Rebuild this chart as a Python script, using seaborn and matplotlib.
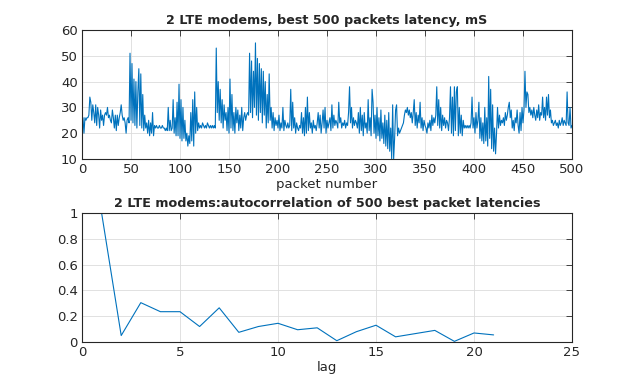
import numpy as np
import pandas as pd
import matplotlib
matplotlib.use("Agg")
import matplotlib.pyplot as plt
import seaborn as sns

# ---- data ----
latency = [
    26, 20, 26, 25, 26, 26, 27, 34, 32, 25,
    31, 28, 24, 31, 23, 30, 27, 22, 29, 25,
    27, 23, 27, 28, 27, 30, 26, 27, 25, 24,
    29, 26, 22, 27, 21, 27, 23, 26, 28, 31,
    27, 25, 26, 24, 20, 25, 26, 24, 51, 25,
    47, 24, 41, 23, 40, 22, 36, 45, 23, 43,
    22, 35, 21, 27, 22, 24, 20, 25, 19, 24,
    20, 28, 19, 23, 22, 23, 22, 22, 23, 22,
    22, 23, 22, 22, 21, 22, 21, 30, 21, 25,
    21, 22, 33, 20, 26, 19, 32, 19, 39, 18,
    33, 17, 30, 18, 25, 17, 20, 15, 19, 16,
    28, 17, 33, 15, 36, 20, 30, 21, 24, 22,
    23, 22, 24, 23, 22, 23, 22, 24, 23, 22,
    23, 22, 23, 22, 23, 22, 53, 28, 40, 25,
    37, 24, 33, 22, 31, 25, 28, 21, 30, 20,
    41, 22, 35, 21, 28, 20, 30, 24, 29, 21,
    27, 22, 30, 21, 26, 28, 25, 27, 28, 27,
    51, 28, 48, 26, 44, 30, 55, 27, 49, 25,
    47, 28, 45, 24, 44, 27, 40, 22, 35, 24,
    43, 25, 30, 22, 28, 21, 26, 23, 25, 22,
    27, 21, 24, 22, 30, 21, 25, 23, 22, 24,
    22, 23, 37, 21, 32, 22, 26, 20, 24, 22,
    21, 23, 22, 28, 20, 26, 19, 30, 20, 34,
    21, 28, 22, 24, 20, 25, 22, 23, 21, 24,
    28, 22, 27, 20, 24, 29, 22, 30, 20, 25,
    22, 24, 26, 21, 31, 22, 27, 23, 25, 24,
    22, 32, 24, 26, 22, 24, 23, 25, 22, 24,
    23, 28, 38, 24, 30, 22, 26, 23, 25, 24,
    22, 28, 20, 30, 21, 27, 19, 28, 22, 24,
    20, 33, 21, 26, 19, 37, 32, 20, 27, 18,
    30, 19, 26, 17, 29, 18, 24, 16, 27, 15,
    25, 14, 28, 13, 22, 10, 31, 10, 18, 29,
    31, 19, 22, 20, 21, 22, 23, 24, 27, 29,
    28, 30, 27, 29, 26, 28, 24, 28, 33, 23,
    28, 22, 27, 24, 32, 22, 26, 21, 25, 23,
    22, 20, 24, 22, 25, 21, 27, 23, 26, 24,
    27, 38, 23, 33, 22, 30, 21, 27, 23, 26,
    22, 25, 24, 21, 26, 38, 20, 34, 19, 38,
    21, 36, 38, 19, 30, 20, 27, 19, 25, 22,
    23, 22, 23, 22, 23, 22, 24, 34, 22, 26,
    20, 28, 22, 25, 32, 18, 26, 17, 24, 16,
    30, 17, 26, 15, 42, 18, 37, 14, 31, 13,
    22, 12, 20, 30, 22, 27, 23, 25, 24, 26,
    23, 28, 25, 27, 30, 32, 26, 29, 22, 25,
    21, 26, 24, 29, 23, 20, 28, 21, 30, 24,
    29, 44, 30, 36, 35, 28, 30, 27, 29, 26,
    30, 27, 25, 29, 26, 31, 25, 28, 27, 34,
    26, 30, 25, 34, 27, 35, 26, 29, 24, 25,
    23, 24, 25, 23, 24, 22, 25, 23, 24, 26,
    23, 25, 24, 23, 36, 24, 23, 30, 22, 23,
]
packet = list(range(1, len(latency) + 1))

lags = list(range(1, 22))
autocorr = [1.0, 0.05, 0.305, 0.235, 0.235, 0.12, 0.265, 0.075, 0.12, 0.145,
            0.095, 0.11, 0.01, 0.08, 0.13, 0.04, 0.065, 0.09, 0.005, 0.07, 0.055]

top_title = "2 LTE modems, best 500 packets latency, mS"
bot_title = "2 LTE modems:autocorrelation of 500 best packet latencies"

# ---- style ----
sns.set_style("whitegrid")
plt.rcParams['font.family'] = ['DejaVu Sans']
dark = '#262626'
plt.rcParams.update({
    'axes.edgecolor': dark,
    'axes.linewidth': 0.8,
    'grid.color': '#dcdcdc',
    'grid.linewidth': 0.6,
    'xtick.color': dark,
    'ytick.color': dark,
    'text.color': dark,
    'axes.labelcolor': dark,
})
line_color = '#0072BD'

fig = plt.figure(figsize=(6.33, 3.87), dpi=100)
ax1 = fig.add_axes([82/633, 1-159/387, 490/633, 129/387])
ax2 = fig.add_axes([82/633, 1-342/387, 490/633, 129/387])

df1 = pd.DataFrame({'packet': packet, 'latency': latency})
sns.lineplot(data=df1, x='packet', y='latency', ax=ax1, color=line_color, linewidth=0.8)
ax1.set_xlim(0, 500)
ax1.set_ylim(10, 60)
ax1.set_xticks(range(0, 501, 50))
ax1.set_yticks(range(10, 61, 10))
ax1.set_xlabel('packet number', fontsize=9.5, labelpad=1)
ax1.set_ylabel('')
ax1.set_title(top_title, fontsize=9.2, fontweight='bold', pad=4)

df2 = pd.DataFrame({'lag': lags, 'ac': autocorr})
sns.lineplot(data=df2, x='lag', y='ac', ax=ax2, color=line_color, linewidth=0.8)
ax2.set_xlim(0, 25)
ax2.set_ylim(0, 1)
ax2.set_xticks(range(0, 26, 5))
ax2.set_yticks([0, 0.2, 0.4, 0.6, 0.8, 1])
ax2.set_yticklabels(['0', '0.2', '0.4', '0.6', '0.8', '1'])
ax2.set_xlabel('lag', fontsize=9.5, labelpad=1)
ax2.set_ylabel('')
ax2.set_title(bot_title, fontsize=9.2, fontweight='bold', pad=4)

for ax in (ax1, ax2):
    ax.tick_params(direction='in', length=4, width=0.6, top=True, right=True,
                   labelsize=9.5, pad=3)
    for s in ax.spines.values():
        s.set_visible(True)
        s.set_color(dark)
    ax.grid(True)

fig.savefig('out.png', dpi=100)
